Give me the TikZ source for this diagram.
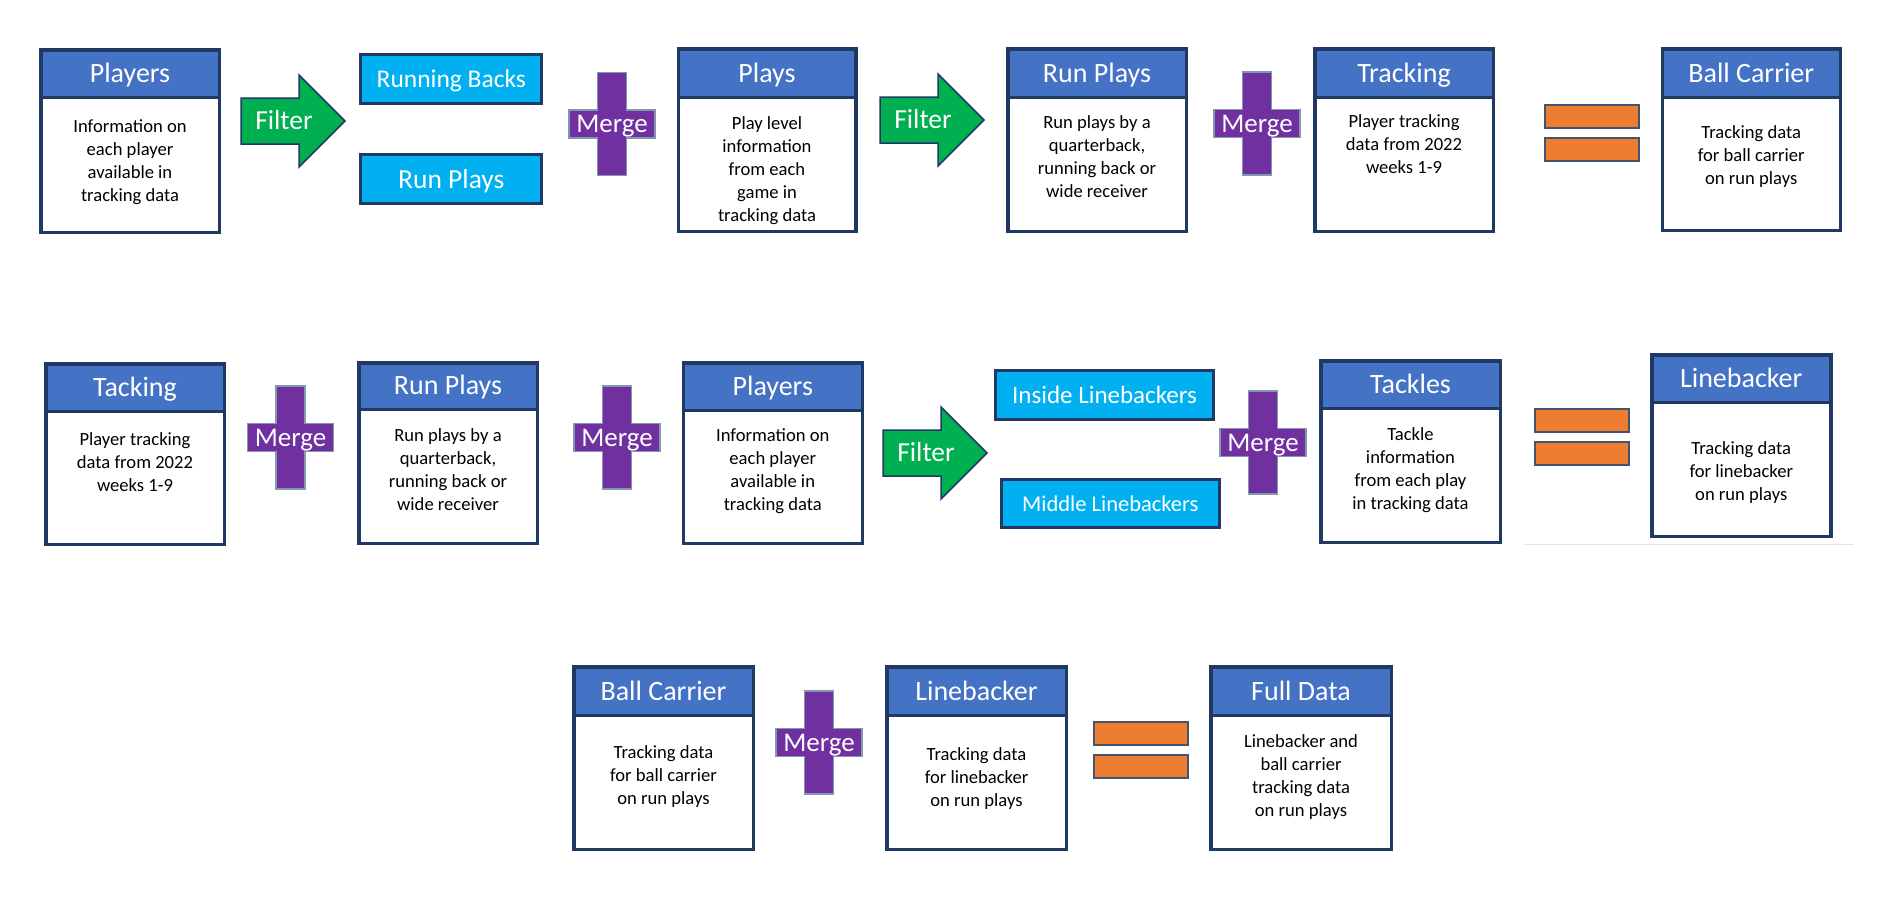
\documentclass[tikz,border=0pt]{standalone}
\usepackage{fontspec}
\setmainfont{Carlito}
\begin{document}
\definecolor{navy}{HTML}{1F3864}
\definecolor{hdrblue}{HTML}{4472C4}
\definecolor{cyanbox}{HTML}{00B0F0}
\definecolor{greenarrow}{HTML}{00B050}
\definecolor{mergepurple}{HTML}{7030A0}
\definecolor{eqorange}{HTML}{ED7D31}
\definecolor{crossline}{HTML}{8497B0}
\definecolor{eqline}{HTML}{44546A}
\definecolor{faintline}{HTML}{E4E4E4}
\tikzset{
  hdrtxt/.style={inner sep=0pt, text=white, font=\fontsize{28}{33}\selectfont},
  bodytxt/.style={inner sep=0pt, align=center, text=black, font=\fontsize{18.6}{23}\selectfont,
    execute at begin node=\strut, execute at end node=\strut},
  boxborder/.style={draw=navy, line width=3.5pt},
  sepline/.style={draw=navy, line width=3pt},
  cyanrect/.style={rectangle, draw=navy, line width=3pt, fill=cyanbox, text=white,
    inner sep=0pt, text depth=0pt},
  arrowshape/.style={fill=greenarrow, draw=navy, line width=1.5pt, line join=miter},
  arrowtxt/.style={inner sep=0pt, text=white, font=\fontsize{27.5}{33}\selectfont,
    text height=17.7pt, text depth=0pt},
  crossshape/.style={fill=mergepurple, draw=crossline, line width=1.5pt},
  crosstxt/.style={inner sep=0pt, text=white, font=\fontsize{27}{32}\selectfont,
    text height=17.4pt, text depth=0pt},
  eqbar/.style={fill=eqorange, draw=eqline, line width=1.5pt},
}
% #1 name, #2 x1, #3 y1, #4 x2, #5 y2, #6 header bottom, #7 title, #8 body, #9 body centre y
\newcommand\dbox[9]{%
  \fill[white] (#2,#3) rectangle (#4,#5);
  \fill[hdrblue] (#2,#3) rectangle (#4,#6);
  \draw[sepline] (#2,#6) -- (#4,#6);
  \draw[boxborder] (#2+1.75,#3+1.75) rectangle (#4-1.75,#5-1.75);
  \node[hdrtxt, anchor=base] (#1-title) at ({(#2+#4)/2},#6-14.5) {#7};
  \node[bodytxt] (#1-body) at ({(#2+#4)/2},#9+3.5) {#8};
}
% #1 name, #2 left x, #3 tip y
\newcommand\filterarrow[3]{%
  \draw[arrowshape] (#2,#3-23) -- (#2+58,#3-23) -- (#2+58,#3-46) -- (#2+104,#3)
    -- (#2+58,#3+46) -- (#2+58,#3+23) -- (#2,#3+23) -- cycle;
  \node[arrowtxt] (#1) at (#2+43,#3) {Filter};
}
% #1 name, #2 cx, #3 cy
\newcommand\mergecross[3]{%
  \draw[crossshape] (#2-14.5,#3-51.5) -- (#2+14.5,#3-51.5) -- (#2+14.5,#3-14) -- (#2+43,#3-14)
    -- (#2+43,#3+14) -- (#2+14.5,#3+14) -- (#2+14.5,#3+51.5) -- (#2-14.5,#3+51.5)
    -- (#2-14.5,#3+14) -- (#2-43,#3+14) -- (#2-43,#3-14) -- (#2-14.5,#3-14) -- cycle;
  \node[crosstxt] (#1) at (#2,#3) {Merge};
}
% #1 x1, #2 y1
\newcommand\eqbars[2]{%
  \draw[eqbar] (#1,#2) rectangle (#1+94,#2+23);
  \draw[eqbar] (#1,#2+33) rectangle (#1+94,#2+56);
}
\begin{tikzpicture}[x=1pt,y=-1pt]
\useasboundingbox (0,0) rectangle (1890,906);
\fill[white] (0,0) rectangle (1890,906);

% ---------- Row 1 ----------
\dbox{players1}{39}{48}{221}{234}{97}{Players}{Information on\\each player\\available in\\tracking data}{160.5}
\filterarrow{filter1}{241}{121}
\node[cyanrect, minimum width=181pt, minimum height=48.7pt, font=\fontsize{25.5}{30}\selectfont,
  text height=16.4pt] (rb) at (451.3,79.2) {Running Backs};
\node[cyanrect, minimum width=181pt, minimum height=48.7pt, font=\fontsize{27.5}{33}\selectfont,
  text height=17.7pt] (rp1) at (451.3,179.2) {Run Plays};
\mergecross{merge1}{612}{124}
\dbox{plays1}{676.5}{47}{857.5}{233}{97}{Plays}{Play level\\information\\from each\\game in\\tracking data}{168.5}
\filterarrow{filter2}{880}{120}
\dbox{runplays1}{1006}{47}{1188}{233}{97}{Run Plays}{Run plays by a\\quarterback,\\running back or\\wide receiver}{156}
\mergecross{merge2}{1257}{123.5}
\dbox{tracking1}{1313}{47}{1495}{233}{97}{Tracking}{Player tracking\\data from 2022\\weeks 1-9}{144}
\eqbars{1545}{105}
\dbox{ballcarrier1}{1660.5}{47}{1842}{232}{97}{Ball Carrier}{Tracking data\\for ball carrier\\on run plays}{155}

% ---------- Row 2 ----------
\dbox{tacking2}{44}{362}{226}{546}{411}{Tacking}{Player tracking\\data from 2022\\weeks 1-9}{462}
\mergecross{merge3}{290.5}{437.5}
\dbox{runplays2}{357}{361}{539}{545}{409}{Run Plays}{Run plays by a\\quarterback,\\running back or\\wide receiver}{469}
\mergecross{merge4}{617}{437.5}
\dbox{players2}{681.5}{361}{864}{545}{410}{Players}{Information on\\each player\\available in\\tracking data}{470}
\filterarrow{filter3}{883}{453}
\node[cyanrect, minimum width=218pt, minimum height=48.7pt, font=\fontsize{25}{30}\selectfont,
  text height=16.1pt] (ilb) at (1104.5,395.2) {Inside Linebackers};
\node[cyanrect, minimum width=217.7pt, minimum height=48pt, font=\fontsize{22.5}{27}\selectfont,
  text height=14.5pt] (mlb) at (1110.3,503.8) {Middle Linebackers};
\mergecross{merge5}{1263}{442.5}
\dbox{tackles2}{1319}{359}{1502}{544}{408}{Tackles}{Tackle\\information\\from each play\\in tracking data}{468.5}
\eqbars{1535}{409}
\draw[faintline, line width=1pt] (1524,544) coordinate (fl1) -- (1854,544) coordinate (fl2);
\dbox{linebacker2}{1650}{353}{1832.5}{538}{402}{Linebacker}{Tracking data\\for linebacker\\on run plays}{470.5}

% ---------- Row 3 ----------
\dbox{ballcarrier3}{572}{665}{755}{851}{715}{Ball Carrier}{Tracking data\\for ball carrier\\on run plays}{775}
\mergecross{merge6}{819}{742.5}
\dbox{linebacker3}{885}{665}{1068}{851}{715}{Linebacker}{Tracking data\\for linebacker\\on run plays}{776.5}
\eqbars{1094}{722}
\dbox{fulldata3}{1209}{665}{1393}{851}{715}{Full Data}{Linebacker and\\ball carrier\\tracking data\\on run plays}{775}
\end{tikzpicture}
\end{document}
